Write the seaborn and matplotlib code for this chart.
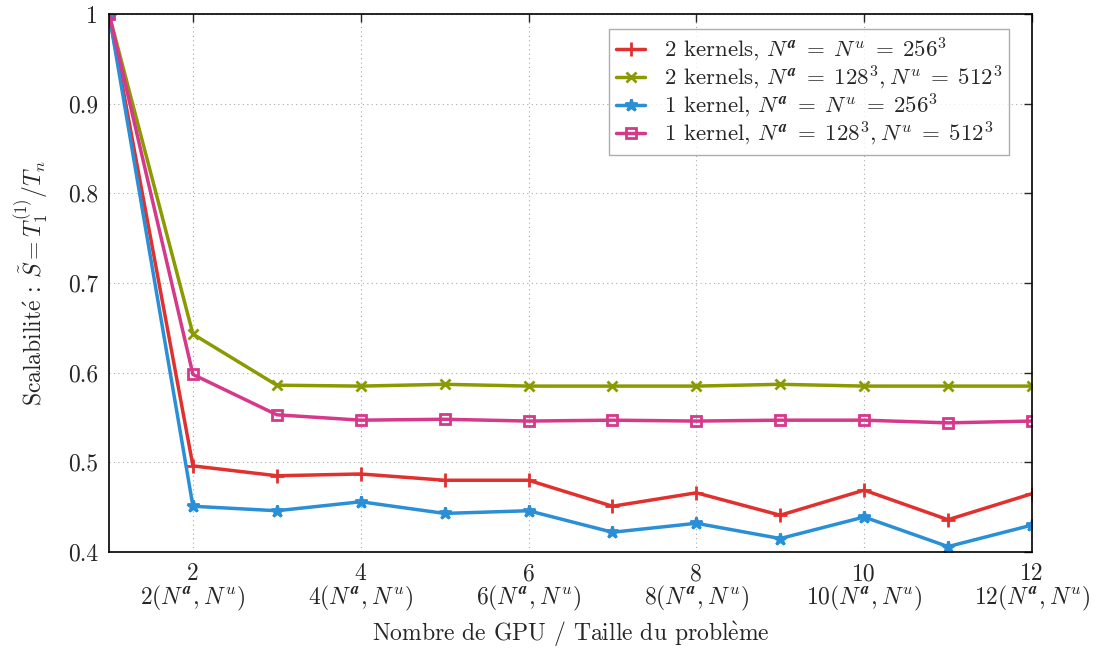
import numpy as np
import pandas as pd
import matplotlib
matplotlib.use("Agg")
import matplotlib.pyplot as plt
import seaborn as sns

# data
gpus = [1, 2, 3, 4, 5, 6, 7, 8, 9, 10, 11, 12]
k2_256 = [1.0, 0.496, 0.485, 0.487, 0.480, 0.480, 0.451, 0.466, 0.441, 0.469, 0.436, 0.465]
k2_128_512 = [1.0, 0.643, 0.586, 0.585, 0.587, 0.585, 0.585, 0.585, 0.587, 0.585, 0.585, 0.585]
k1_256 = [1.0, 0.451, 0.446, 0.456, 0.443, 0.446, 0.422, 0.432, 0.415, 0.439, 0.406, 0.430]
k1_128_512 = [1.0, 0.598, 0.553, 0.547, 0.548, 0.546, 0.547, 0.546, 0.547, 0.547, 0.544, 0.546]

labels = [
    r"2 kernels, $N^{\boldsymbol{a}} \;=\; N^u \;=\; 256^3$",
    r"2 kernels, $N^{\boldsymbol{a}} \;=\; 128^3, N^u \;=\; 512^3$",
    r"1 kernel, $N^{\boldsymbol{a}} \;=\; N^u \;=\; 256^3$",
    r"1 kernel, $N^{\boldsymbol{a}} \;=\; 128^3, N^u \;=\; 512^3$",
]
colors = ["#e0312f", "#8a9a00", "#2a8fd6", "#d6388a"]
markers = ["+", "x", "*", "s"]
msizes = [10, 7, 9, 7]

xticks = [2, 4, 6, 8, 10, 12]
xticklabels = [f"{n}\n${n}(N^{{\\boldsymbol{{a}}}}, N^u)$" for n in xticks]
yticks = [0.4, 0.5, 0.6, 0.7, 0.8, 0.9, 1.0]
yticklabels = ["0.4", "0.5", "0.6", "0.7", "0.8", "0.9", "1"]

df = pd.DataFrame({"GPU": gpus * 4,
                   "S": k2_256 + k2_128_512 + k1_256 + k1_128_512,
                   "serie": sum([[l] * len(gpus) for l in labels], [])})

sns.set_style("white")
plt.rcParams["font.family"] = ["cmr10", "DejaVu Serif"]
plt.rcParams["mathtext.fontset"] = "cm"
plt.rcParams["axes.unicode_minus"] = False
plt.rcParams["axes.formatter.use_mathtext"] = True

fig = plt.figure(figsize=(10.97, 6.5), dpi=100)
ax = fig.add_axes([0.0994, 0.1508, 0.8413, 0.8277])

for lab, c, m, ms in zip(labels, colors, markers, msizes):
    sub = df[df["serie"] == lab]
    face = "none" if m == "s" else c
    sns.lineplot(data=sub, x="GPU", y="S", ax=ax, color=c, marker=m, label=lab,
                 linewidth=2.5, markersize=ms, markerfacecolor=face,
                 markeredgecolor=c, markeredgewidth=2)

ax.set_xlim(1, 12)
ax.set_ylim(0.4, 1.0)
ax.set_xticks(xticks)
ax.set_xticklabels(xticklabels, fontsize=17, linespacing=0.95)
ax.set_yticks(yticks)
ax.set_yticklabels(yticklabels, fontsize=17)
ax.tick_params(direction="in", length=6, width=1, top=True, right=True, pad=8)
ax.grid(True, linestyle=(0, (1, 3)), color="#aaaaaa", linewidth=0.8)
for s in ax.spines.values():
    s.set_color("black")
    s.set_linewidth(1.2)

ax.set_xlabel(r"Nombre de GPU / Taille du $\mathrm{probl\grave{e}me}$", fontsize=17, labelpad=4)
ax.set_ylabel(r"$\mathrm{Scalabilit\acute{e}}$ : $\tilde{S} = T_1^{(1)}/T_n$", fontsize=17, labelpad=12)

leg = ax.legend(loc="upper right", fontsize=16.5, frameon=True, fancybox=False,
                edgecolor="#999999", handlelength=1.3, borderpad=0.3,
                labelspacing=0.0, bbox_to_anchor=(0.9875, 0.9935))
leg.get_frame().set_linewidth(1.0)

fig.savefig("out.png", dpi=100)
